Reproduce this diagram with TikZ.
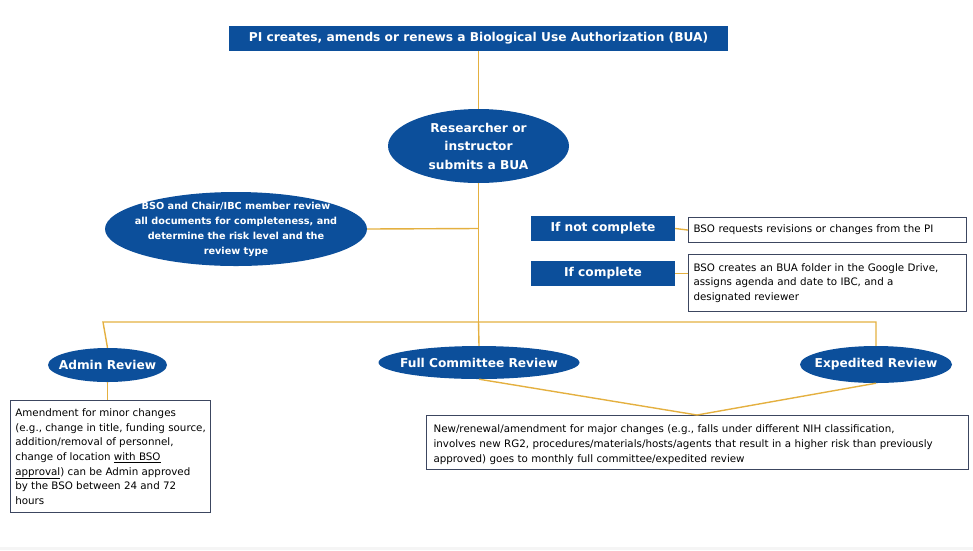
\documentclass[tikz,border=0pt]{standalone}
\usepackage{fontspec}
\setmainfont{DejaVu Sans}
\usetikzlibrary{shapes.geometric}
\definecolor{bluefill}{RGB}{12,79,155}
\definecolor{gold}{RGB}{228,176,64}
\definecolor{boxline}{RGB}{60,70,96}
\tikzset{
  bluebox/.style={rectangle, fill=bluefill, text=white, font=\bfseries, inner sep=0pt, align=center},
  blueell/.style={ellipse, fill=bluefill, inner sep=0pt},
  elltext/.style={text=white, inner sep=0pt, align=center},
  txtbox/.style={rectangle, draw=boxline, line width=1.1pt, fill=white, inner ysep=0pt, align=left, anchor=north west},
  conn/.style={draw=gold, line width=1.4pt},
  bodyfont/.style={font=\fontsize{10.3}{14.6}\selectfont},
  headfont/.style={font=\bfseries\fontsize{12.2}{14}\selectfont},
}
\begin{document}
\begin{tikzpicture}[x=1pt,y=-1pt]
\useasboundingbox (0,0) rectangle (973,550);
\fill[gray!8] (0,547) rectangle (973,550);
% coordinates
\coordinate (junc) at (478.5,322);
\coordinate (jl) at (103,322);
\coordinate (jr) at (876,322);
\coordinate (jb) at (478.5,228.5);
\coordinate (conv) at (697,415);
% nodes
\node[bluebox, minimum width=499pt, minimum height=25pt, headfont] (top) at (478.5,38.5) {PI creates, amends or renews a Biological Use Authorization (BUA)};
\node[blueell, minimum width=181pt, minimum height=74pt] (res) at (478.5,146) {};
\node[elltext, font=\bfseries\fontsize{12.2}{18.5}\selectfont] (rest) at (res.center) {Researcher or\\instructor\\submits a BUA};
\node[blueell, minimum width=262pt, minimum height=74pt] (bso) at (236,229) {};
\node[elltext, font=\bfseries\fontsize{9.7}{15}\selectfont] (bsot) at (bso.center) {BSO and Chair/IBC member review\\all documents for completeness, and\\determine the risk level and the\\review type};
\node[bluebox, minimum width=144pt, minimum height=25pt, headfont] (notc) at (603,228.5) {If not complete};
\node[bluebox, minimum width=144pt, minimum height=25pt, headfont] (comp) at (603,273.5) {If complete};
\node[txtbox, minimum width=278pt, minimum height=25pt, bodyfont, inner xsep=5pt, text width=268pt] (t1) at (688,217) {BSO requests revisions or changes from the PI};
\node[txtbox, minimum width=278pt, minimum height=57pt, bodyfont, inner xsep=5pt, inner ysep=4pt, text width=268pt] (t2) at (688,254) {BSO creates an BUA folder in the Google Drive,\\assigns agenda and date to IBC, and a\\designated reviewer};
\node[blueell, minimum width=119pt, minimum height=34pt] (admin) at (107.5,365) {};
\node[elltext, headfont] (admint) at (admin.center) {Admin Review};
\node[blueell, minimum width=201pt, minimum height=33pt] (full) at (479,362.5) {};
\node[elltext, headfont] (fullt) at (full.center) {Full Committee Review};
\node[blueell, minimum width=152pt, minimum height=37pt] (exp) at (876,364.5) {};
\node[elltext, headfont] (expt) at (exp.center) {Expedited Review};
\node[txtbox, minimum width=200pt, minimum height=112pt, bodyfont, inner xsep=4pt, inner ysep=5pt] (abox) at (10,400) {Amendment for minor changes\\(e.g., change in title, funding source,\\addition/removal of personnel,\\change of location \underline{with BSO}\\\underline{approval}) can be Admin approved\\by the BSO between 24 and 72\\hours};
\node[txtbox, minimum width=542pt, minimum height=53pt, font=\fontsize{10.3}{15}\selectfont, inner xsep=7pt, inner ysep=5pt, text width=528pt] (bbox) at (426,415) {\rule{0pt}{12pt}New/renewal/amendment for major changes (e.g., falls under different NIH classification,\\involves new RG2, procedures/materials/hosts/agents that result in a higher risk than previously\\approved) goes to monthly full committee/expedited review};
% connectors
\draw[conn] (top.south) -- (res.north);
\draw[conn] (res.south) -- (junc);
\draw[conn] (bso.east) -- (jb);
\draw[conn] (notc.east) -- (t1.west);
\draw[conn] (comp.east) -- (comp.east -| t2.west);
\draw[conn] (admin.north) -- (jl) -- (jr) -- (exp.north);
\draw[conn] (junc) -- (full.north);
\draw[conn] (admin.south) -- (abox.north -| admin.south);
\draw[conn] (full.south) -- (conv);
\draw[conn] (exp.south) -- (conv);
\end{tikzpicture}
\end{document}
